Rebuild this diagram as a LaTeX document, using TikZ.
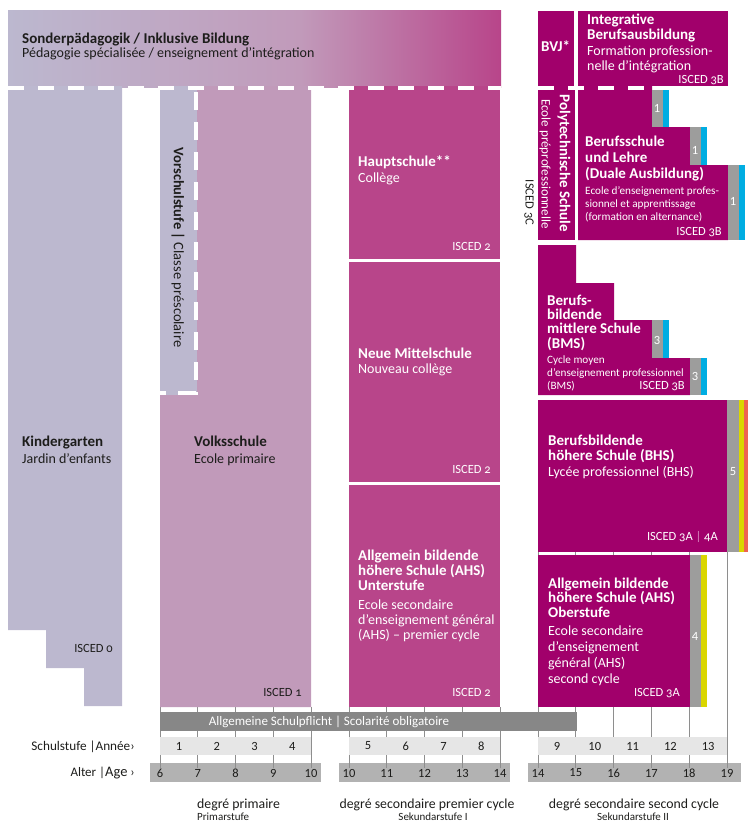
\documentclass[tikz,border=0pt]{standalone}
\usepackage{fontspec}
\setmainfont{Carlito}
\newfontfamily\iscedfont{Carlito}[Numbers=OldStyle]
\usepackage{tikz}
\usetikzlibrary{calc}

\definecolor{lavande}{HTML}{BCB8CF}
\definecolor{rosevs}{HTML}{C19ABA}
\definecolor{magsec}{HTML}{B8458A}
\definecolor{violsec}{HTML}{A1006B}
\definecolor{grisbarre}{HTML}{9D9D9C}
\definecolor{bleu}{HTML}{00ADE2}
\definecolor{jaune}{HTML}{DAD600}
\definecolor{rouge}{HTML}{EE6352}
\definecolor{grisfonce}{HTML}{878787}
\definecolor{grisclair}{HTML}{E6E6E6}
\definecolor{grismoyen}{HTML}{B2B2B2}
\definecolor{encre}{HTML}{1D1D1B}
\definecolor{rosepale}{HTML}{D98CC0}

\tikzset{
  titre/.style={font=\fontsize{15}{15}\selectfont\bfseries, anchor=base west, inner sep=0pt, align=left},
  sous/.style={font=\fontsize{14}{15.5}\selectfont, anchor=base west, inner sep=0pt, align=left},
  petit/.style={font=\fontsize{11.2}{13}\selectfont, anchor=base west, inner sep=0pt, align=left},
  isced/.style={font=\iscedfont\fontsize{12.5}{12.5}\selectfont, anchor=base east, inner sep=0pt},
  duree/.style={font=\fontsize{12.5}{12.5}\selectfont, text=white, inner sep=0pt},
  annee/.style={font=\fontsize{12.5}{12.5}\selectfont, text=encre, inner sep=0pt},
  tiret/.style={draw=white, line width=4pt, dash pattern=on 16pt off 14pt},
  trait/.style={draw=grismoyen!80!black, line width=1pt},
}

\begin{document}
\begin{tikzpicture}[x=1pt, y=-1pt]
\useasboundingbox (0,0) rectangle (748,822);
%					Barres des âges :
\fill[grismoyen] (150,763) rectangle (321,782);
\fill[grismoyen] (339,763) rectangle (510,782);
\fill[grismoyen] (528,763) rectangle (741,782);
%					Traits des années :
\foreach \i in {0,...,4} {
  \draw[trait] ({160+37.75*\i},707) -- ({160+37.75*\i},768);
  \draw[trait] ({349+37.75*\i},707) -- ({349+37.75*\i},768);
}
\foreach \i in {0,...,5}
  \draw[trait] ({538+37.8*\i},552) -- ({538+37.8*\i},768);
%					Bandeau Sonderpädagogik :
\shade[left color=lavande, right color=rosevs] (8,10) rectangle (300.5,87);
\shade[left color=rosevs, right color=magsec] (300,10) rectangle (501,87);
%					Kindergarten et Volksschule :
\fill[lavande] (8,86) -- (122,86) -- (122,706) -- (84,706) -- (84,668) -- (46,668) -- (46,630) -- (8,630) -- cycle;
\fill[rosevs] (197,86) -- (311,86) -- (311,707) -- (160,707) -- (160,395) -- (197,395) -- cycle;
\fill[lavande] (160,86) rectangle (197,395);
%					Sekundarstufe I :
\fill[magsec] (349,86) rectangle (500,259);
\fill[magsec] (349,262) rectangle (500,482);
\fill[magsec] (349,485) rectangle (500,707);
%					Sekundarstufe II :
\fill[violsec] (538,11) rectangle (574,86);
\fill[violsec] (578,11) rectangle (728,86);
\fill[violsec] (538,86) rectangle (575,240);
\fill[violsec] (578,86) -- (652,86) -- (652,127) -- (690,127) -- (690,165) -- (728,165) -- (728,240) -- (578,240) -- cycle;
\fill[grisbarre] (652,90) rectangle (663,127);
\fill[bleu] (663,90) rectangle (669,127);
\fill[grisbarre] (690,127) rectangle (701,165);
\fill[bleu] (701,127) rectangle (707,165);
\fill[grisbarre] (728,165) rectangle (739,240);
\fill[bleu] (739,165) rectangle (745,240);
\fill[violsec] (538,245) -- (576,245) -- (576,283) -- (614,283) -- (614,320) -- (652,320) -- (652,358) -- (690,358) -- (690,395) -- (538,395) -- cycle;
\fill[grisbarre] (652,320) rectangle (663,358);
\fill[bleu] (663,320) rectangle (669,358);
\fill[grisbarre] (690,358) rectangle (701,395);
\fill[bleu] (701,358) rectangle (707,395);
\fill[violsec] (538,400) rectangle (727,552);
\fill[grisbarre] (727,400) rectangle (739,552);
\fill[jaune] (739,400) rectangle (744,552);
\fill[rouge] (744,400) rectangle (748,552);
\fill[violsec] (538,555) rectangle (690,707);
\fill[grisbarre] (690,555) rectangle (701,707);
\fill[jaune] (701,555) rectangle (707,707);
%					Pointillés blancs :
\draw[tiret] (8,88) -- (501,88);
\draw[tiret] (538,88) -- (645,88);
\draw[draw=white, line width=4pt, dash pattern=on 18pt off 12pt] (195.5,92) -- (195.5,392.5) -- (160,392.5);
%					Schulpflicht et Schulstufe :
\fill[grisfonce] (160,712) rectangle (577,731);
\fill[grisclair] (160,737) rectangle (311,755);
\fill[grisclair] (349,737) rectangle (500,755);
\fill[grisclair] (538,737) rectangle (727,755);
%					Textes (ancre sur la dernière ligne) :
\node[titre, text=encre] (sonder) at (22,43) {Sonderpädagogik / Inklusive Bildung};
\node[sous, text=encre] (sonder-fr) at (22,57.5) {Pédagogie spécialisée / enseignement d’intégration};
\node[titre, text=encre] (kiga) at (22,446) {Kindergarten};
\node[sous, text=encre] (kiga-fr) at (22,463.3) {Jardin d’enfants};
\node[isced, text=encre] (kiga-isced) at (113,652.7) {ISCED 0};
\node[rotate=-90, font=\fontsize{14.5}{14.5}\selectfont, text=encre, inner sep=0pt] (vorschule) at (178,247.5) {\textbf{Vorschulstufe |}\ Classe préscolaire};
\node[titre, text=encre] (vs) at (194,446) {Volksschule};
\node[sous, text=encre] (vs-fr) at (194,463.3) {Ecole primaire};
\node[isced, text=encre] (vs-isced) at (302,696.7) {ISCED 1};
\node[titre, text=white] (hs) at (358,166) {Hauptschule**};
\node[sous, text=white] (hs-fr) at (358,182) {Collège};
\node[isced, text=white] (hs-isced) at (491,250) {ISCED 2};
\node[titre, text=white] (nms) at (358,358.3) {Neue Mittelschule};
\node[sous, text=white] (nms-fr) at (358,373.3) {Nouveau collège};
\node[isced, text=white] (nms-isced) at (491,473.3) {ISCED 2};
\node[titre, text=white] (ahsu) at (358,590) {Allgemein bildende\\höhere Schule (AHS)\\Unterstufe};
\node[sous, font=\fontsize{14}{15}\selectfont, text=white] (ahsu-fr) at (358,639) {Ecole secondaire\\d’enseignement général\\(AHS) – premier cycle};
\node[isced, text=white] (ahsu-isced) at (491,696.7) {ISCED 2};
\node[titre, text=white] (bvj) at (541,51) {BVJ*};
\node[titre, text=white] (iba) at (587,39) {Integrative\\Berufsausbildung};
\node[sous, text=white] (iba-fr) at (587,70.7) {Formation profession-\\nelle d’intégration};
\node[isced, text=white] (iba-isced) at (724,83.3) {ISCED 3B};
\node[rotate=-90, font=\fontsize{15}{15}\selectfont\bfseries, text=white, inner sep=0pt] (pts) at (564,163.3) {Polytechnische Schule};
\node[rotate=-90, font=\fontsize{13}{13}\selectfont, text=white, inner sep=0pt] (pts-fr) at (545,164) {Ecole préprofessionnelle};
\node[rotate=-90, font=\iscedfont\fontsize{12.5}{12.5}\selectfont, text=encre, inner sep=0pt] (pts-isced) at (529,202.5) {ISCED 3C};
\node[titre, font=\fontsize{15}{16}\selectfont\bfseries, text=white] (bs) at (585,178.7) {Berufsschule\\und Lehre\\(Duale Ausbildung)};
\node[petit, text=white] (bs-fr) at (585,220.3) {Ecole d’enseignement profes-\\sionnel et apprentissage\\(formation en alternance)};
\node[isced, text=white] (bs-isced) at (722,235) {ISCED 3B};
\node[titre, font=\fontsize{15}{14.3}\selectfont\bfseries, text=white] (bms) at (547,348) {Berufs-\\bildende\\mittlere Schule\\(BMS)};
\node[petit, text=white] (bms-fr) at (547,389) {Cycle moyen\\d’enseignement professionnel\\(BMS)};
\node[isced, text=white] (bms-isced) at (685,389) {ISCED 3B};
\node[titre, text=white] (bhs) at (548,460.7) {Berufsbildende\\höhere Schule (BHS)};
\node[sous, text=white] (bhs-fr) at (548,476.7) {Lycée professionnel (BHS)};
\node[isced, text=white] (bhs-isced) at (718,540.7) {ISCED 3A {\color{rosepale}|} 4A};
\node[titre, font=\fontsize{15}{14.3}\selectfont\bfseries, text=white] (ahso) at (548,617) {Allgemein bildende\\höhere Schule (AHS)\\Oberstufe};
\node[sous, font=\fontsize{14}{15.7}\selectfont, text=white] (ahso-fr) at (548,683) {Ecole secondaire\\d’enseignement\\général (AHS)\\second cycle};
\node[isced, text=white] (ahso-isced) at (680,696.7) {ISCED 3A};
%					Durées :
\node[duree] (d-bs1) at (657,108.3) {1};
\node[duree] (d-bs2) at (695,150) {1};
\node[duree] (d-bs3) at (733,201.7) {1};
\node[duree] (d-bms1) at (657,340) {3};
\node[duree] (d-bms2) at (695,376.7) {3};
\node[duree] (d-bhs) at (733,471.7) {5};
\node[duree] (d-ahs) at (695,636) {4};
%					Axes :
\node[font=\fontsize{13}{13}\selectfont, text=white, inner sep=0pt] (schulpflicht) at (329,721.5) {Allgemeine Schulpflicht | Scolarité obligatoire};
\node[font=\fontsize{13.2}{13.2}\selectfont, text=encre, anchor=base east, inner sep=0pt] (stufe) at (135,750.7) {Schulstufe |Année›};
\node[font=\fontsize{13}{13}\selectfont, text=encre, anchor=base east, inner sep=0pt] (alter) at (135,776.5) {Alter |{\fontsize{14.5}{14.5}\selectfont Age} ›};
\foreach \s [count=\i from 0] in {1,...,4}
  \node[annee] (stufe-\s) at ({179+37.75*\i},746) {\s};
\foreach \s [count=\i from 0] in {5,...,8}
  \node[annee] (stufe-\s) at ({368+37.75*\i},746) {\s};
\foreach \s [count=\i from 0] in {9,...,13}
  \node[annee] (stufe-\s) at ({557+37.8*\i},746) {\s};
\foreach \a [count=\i from 0] in {6,...,10}
  \node[annee] (alter-p\a) at ({160+37.75*\i},773) {\a};
\foreach \a [count=\i from 0] in {10,...,14}
  \node[annee] (alter-s\a) at ({349+37.75*\i},773) {\a};
\foreach \a [count=\i from 0] in {14,...,19}
  \node[annee] (alter-t\a) at ({538+37.8*\i},773) {\a};
\node[font=\fontsize{13.8}{13.8}\selectfont, text=encre, anchor=base west, inner sep=0pt] (prim) at (197,808.3) {degré primaire};
\node[font=\fontsize{11}{11}\selectfont, text=encre, anchor=base west, inner sep=0pt] (prim-de) at (197,820.5) {Primarstufe};
\node[font=\fontsize{13.8}{13.8}\selectfont, text=encre, anchor=base, inner sep=0pt] (sek1) at (427,808.3) {degré secondaire premier cycle};
\node[font=\fontsize{11}{11}\selectfont, text=encre, anchor=base, inner sep=0pt] (sek1-de) at (433,820.5) {Sekundarstufe I};
\node[font=\fontsize{13.8}{13.8}\selectfont, text=encre, anchor=base, inner sep=0pt] (sek2) at (634,808.3) {degré secondaire second cycle};
\node[font=\fontsize{11}{11}\selectfont, text=encre, anchor=base, inner sep=0pt] (sek2-de) at (633,820.5) {Sekundarstufe II};
\end{tikzpicture}
\end{document}
